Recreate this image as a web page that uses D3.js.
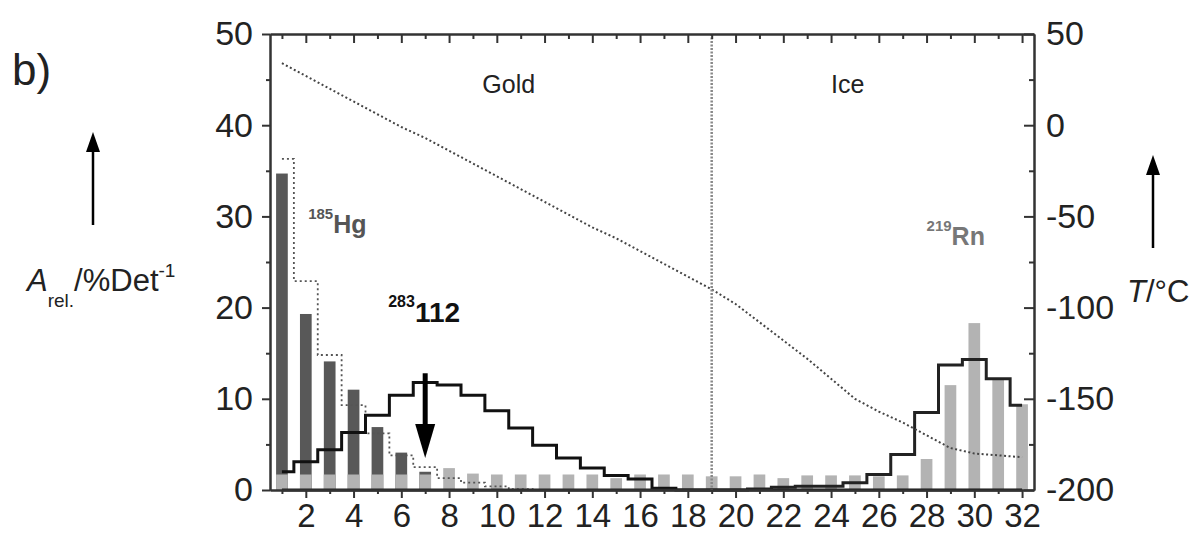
<!DOCTYPE html>
<html>
<head>
<meta charset="utf-8">
<script src="https://cdn.jsdelivr.net/npm/d3@7"></script>
<style>
    body { margin: 0; background: #fff; }
    svg { font-family: "Liberation Sans", Arial, sans-serif; }
    .axis path, .axis line { stroke: #333; stroke-width: 2; }
    .axis text { font-size: 34px; fill: #222; }
    .axis.bottom text { font-size: 33px; }
</style>
</head>
<body>
<div id="chart"></div>
<script>

// detector channels
var channels = d3.range(1, 33);

// 185Hg measured (dark bars), channels 1..7
var hgBars = [34.7, 19.3, 14.1, 11.0, 6.9, 4.1, 2.0];

// 185Hg simulation (dotted step)
var hgSim = [36.3, 22.9, 14.8, 9.3, 6.2, 3.8, 2.5, 1.3, 0.8, 0.4, 0.1, 0, 0, 0, 0, 0,
    0, 0, 0, 0, 0, 0, 0, 0, 0, 0, 0, 0, 0, 0, 0, 0];

// 219Rn measured (light bars)
var rnBars = [1.7, 1.7, 1.7, 1.7, 1.7, 1.7, 1.7, 2.4, 1.8, 1.7, 1.7, 1.7, 1.7, 1.7, 1.3, 1.7,
    1.7, 1.7, 1.5, 1.5, 1.7, 1.3, 1.6, 1.6, 1.6, 1.5, 1.6, 3.4, 11.5, 18.3, 12.1, 9.4];

// 283-112 simulation (solid step)
var e112Sim = [2.0, 3.1, 4.4, 6.3, 8.2, 10.4, 11.8, 11.5, 10.4, 8.7, 6.8, 4.9, 3.5, 2.4, 1.6, 1.2,
    0.2, 0, 0, 0, 0, 0, 0, 0, 0, 0, 0, 0, 0, 0, 0, 0];

// 219Rn simulation (solid step)
var rnSim = [0, 0, 0, 0, 0, 0, 0, 0, 0, 0, 0, 0, 0, 0, 0, 0,
    0, 0, 0, 0, 0.1, 0.3, 0.4, 0.4, 0.8, 1.7, 3.9, 8.5, 13.7, 14.3, 12.2, 9.3];

// temperature profile, degC
var temperature = [34, 27, 20, 13, 6, -1, -7, -14, -21, -28, -35, -42, -49, -56, -62, -69,
    -76, -83, -90, -98, -108, -118, -128, -139, -150, -157, -163, -170, -177, -180, -181, -182];

var leftTicks = [0, 10, 20, 30, 40, 50];
var rightTicks = [-200, -150, -100, -50, 0, 50];
var goldIceBorder = 19;
var depositArrow = { channel: 7, from: 12.8, to: 3.5 };

var margin = { left: 270, top: 34, right: 163, bottom: 45 };
var outerWidth = 1197;
var outerHeight = 535;
var width = outerWidth - margin.left - margin.right;
var height = outerHeight - margin.top - margin.bottom;

var svg = d3.select('#chart')
    .append('svg')
    .attr('width', outerWidth)
    .attr('height', outerHeight);

var canvas = svg.append('g')
    .attr('transform', 'translate(' + [margin.left, margin.top] + ')');

var x = d3.scaleLinear().domain([0.5, 32.5]).range([0, width]);
var yLeft = d3.scaleLinear().domain([0, 50]).range([height, 0]);
var yRight = d3.scaleLinear().domain([-200, 50]).range([height, 0]);

var barWidth = x(1.49) - x(1);

// dark bars (185Hg)
canvas.selectAll('rect.hg')
    .data(hgBars)
    .enter()
    .append('rect')
    .attr('class', 'hg')
    .attr('x', (d, i) => x(channels[i]) - barWidth / 2)
    .attr('y', d => yLeft(d))
    .attr('width', barWidth)
    .attr('height', d => yLeft(0) - yLeft(d))
    .style('fill', '#585858');

// light bars (219Rn)
canvas.selectAll('rect.rn')
    .data(rnBars)
    .enter()
    .append('rect')
    .attr('class', 'rn')
    .attr('x', (d, i) => x(channels[i]) - barWidth / 2)
    .attr('y', d => yLeft(d))
    .attr('width', barWidth)
    .attr('height', d => yLeft(0) - yLeft(d))
    .style('fill', '#b3b3b3');

var stepLine = d3.line()
    .x((d, i) => x(channels[i]))
    .y(d => yLeft(d))
    .curve(d3.curveStep);

canvas.append('path')
    .datum(hgSim)
    .attr('d', stepLine)
    .style('fill', 'none')
    .style('stroke', '#555')
    .style('stroke-width', 1.8)
    .style('stroke-dasharray', '2,3');

canvas.append('path')
    .datum(e112Sim)
    .attr('d', stepLine)
    .style('fill', 'none')
    .style('stroke', '#111')
    .style('stroke-width', 3);

canvas.append('path')
    .datum(rnSim)
    .attr('d', stepLine)
    .style('fill', 'none')
    .style('stroke', '#222')
    .style('stroke-width', 3);

// temperature gradient
canvas.append('path')
    .datum(temperature)
    .attr('d', d3.line()
        .x((d, i) => x(channels[i]))
        .y(d => yRight(d)))
    .style('fill', 'none')
    .style('stroke', '#444')
    .style('stroke-width', 2)
    .style('stroke-dasharray', '2,2.5');

// gold / ice border
canvas.append('line')
    .attr('x1', x(goldIceBorder))
    .attr('x2', x(goldIceBorder))
    .attr('y1', 0)
    .attr('y2', height)
    .style('stroke', '#888')
    .style('stroke-width', 2.5)
    .style('stroke-dasharray', '2,1.5');

// axes
var even = channels.filter(d => d % 2 == 0);
var odd = channels.filter(d => d % 2 == 1);
var plain = d => String(d);

canvas.append('g').attr('class', 'axis bottom')
    .attr('transform', 'translate(0,' + height + ')')
    .call(d3.axisBottom(x).tickValues(even).tickSize(8).tickSizeOuter(0).tickPadding(6).tickFormat(plain));
canvas.append('g').attr('class', 'axis')
    .attr('transform', 'translate(0,' + height + ')')
    .call(d3.axisBottom(x).tickValues(odd).tickSize(4).tickSizeOuter(0).tickFormat(''));

canvas.append('g').attr('class', 'axis')
    .call(d3.axisTop(x).tickValues(even).tickSize(-9).tickSizeOuter(0).tickFormat(''));
canvas.append('g').attr('class', 'axis')
    .call(d3.axisTop(x).tickValues(odd).tickSize(-5).tickSizeOuter(0).tickFormat(''));

canvas.append('g').attr('class', 'axis')
    .call(d3.axisLeft(yLeft).tickValues(leftTicks).tickSize(8).tickSizeOuter(0).tickPadding(9).tickFormat(plain));
canvas.append('g').attr('class', 'axis')
    .call(d3.axisLeft(yLeft).tickValues(leftTicks.slice(1).map(d => d - 5)).tickSize(4).tickSizeOuter(0).tickFormat(''));

canvas.append('g').attr('class', 'axis')
    .attr('transform', 'translate(' + width + ',0)')
    .call(d3.axisRight(yRight).tickValues(rightTicks).tickSize(-10).tickSizeOuter(0).tickPadding(12).tickFormat(plain));
canvas.append('g').attr('class', 'axis')
    .attr('transform', 'translate(' + width + ',0)')
    .call(d3.axisRight(yRight).tickValues(rightTicks.slice(1).map(d => d - 25)).tickSize(-5).tickSizeOuter(0).tickFormat(''));

// down arrow at channel 7
var ax = x(depositArrow.channel);
var tipY = yLeft(depositArrow.to);
canvas.append('line')
    .attr('x1', ax).attr('x2', ax)
    .attr('y1', yLeft(depositArrow.from))
    .attr('y2', tipY - 25)
    .style('stroke', '#000')
    .style('stroke-width', 5);
canvas.append('path')
    .attr('d', 'M' + (ax - 10) + ',' + (tipY - 34) + 'L' + (ax + 10) + ',' + (tipY - 34) + 'L' + ax + ',' + tipY + 'Z')
    .style('fill', '#000');

// labels inside plot
var label = canvas.append('g');

label.append('text')
    .attr('x', x(10.5)).attr('y', 59)
    .attr('text-anchor', 'middle')
    .style('font-size', '25px').style('fill', '#222')
    .text('Gold');

label.append('text')
    .attr('x', x(24.7)).attr('y', 59)
    .attr('text-anchor', 'middle')
    .style('font-size', '25px').style('fill', '#222')
    .text('Ice');

var hg = label.append('text')
    .attr('x', x(2.1)).attr('y', 199)
    .style('font-weight', 'bold').style('fill', '#555');
hg.append('tspan').attr('dy', -14).style('font-size', '15px').text('185');
hg.append('tspan').attr('dy', 14).style('font-size', '25px').text('Hg');

var e112 = label.append('text')
    .attr('x', x(5.45)).attr('y', 288)
    .style('font-weight', 'bold').style('fill', '#111');
e112.append('tspan').attr('dy', -15).style('font-size', '16px').text('283');
e112.append('tspan').attr('dy', 15).style('font-size', '28px').text('112');

var rn = label.append('text')
    .attr('x', x(28.0)).attr('y', 211)
    .style('font-weight', 'bold').style('fill', '#777');
rn.append('tspan').attr('dy', -14).style('font-size', '15px').text('219');
rn.append('tspan').attr('dy', 14).style('font-size', '25px').text('Rn');

// outer labels
svg.append('text')
    .attr('x', 12).attr('y', 85)
    .style('font-size', '44px').style('fill', '#222')
    .text('b)');

var aLabel = svg.append('text')
    .attr('x', 27).attr('y', 291)
    .style('font-size', '31px').style('fill', '#222');
aLabel.append('tspan').style('font-style', 'italic').text('A');
aLabel.append('tspan').attr('dy', 16).style('font-size', '19px').text('rel.');
aLabel.append('tspan').attr('dy', -16).text('/%Det');
aLabel.append('tspan').attr('dy', -14).style('font-size', '19px').text('-1');

var tLabel = svg.append('text')
    .attr('x', 1127).attr('y', 302)
    .style('font-size', '31px').style('fill', '#222');
tLabel.append('tspan').style('font-style', 'italic').text('T');
tLabel.append('tspan').text('/°C');

// axis arrows
function upArrow(cx, top, bottom) {
    svg.append('line')
        .attr('x1', cx).attr('x2', cx)
        .attr('y1', top + 14).attr('y2', bottom)
        .style('stroke', '#000')
        .style('stroke-width', 2.5);
    svg.append('path')
        .attr('d', 'M' + (cx - 7) + ',' + (top + 20) + 'L' + (cx + 7) + ',' + (top + 20) + 'L' + cx + ',' + top + 'Z')
        .style('fill', '#000');
}
upArrow(93, 132, 225);
upArrow(1153, 155, 248);

</script>
</body>
</html>
